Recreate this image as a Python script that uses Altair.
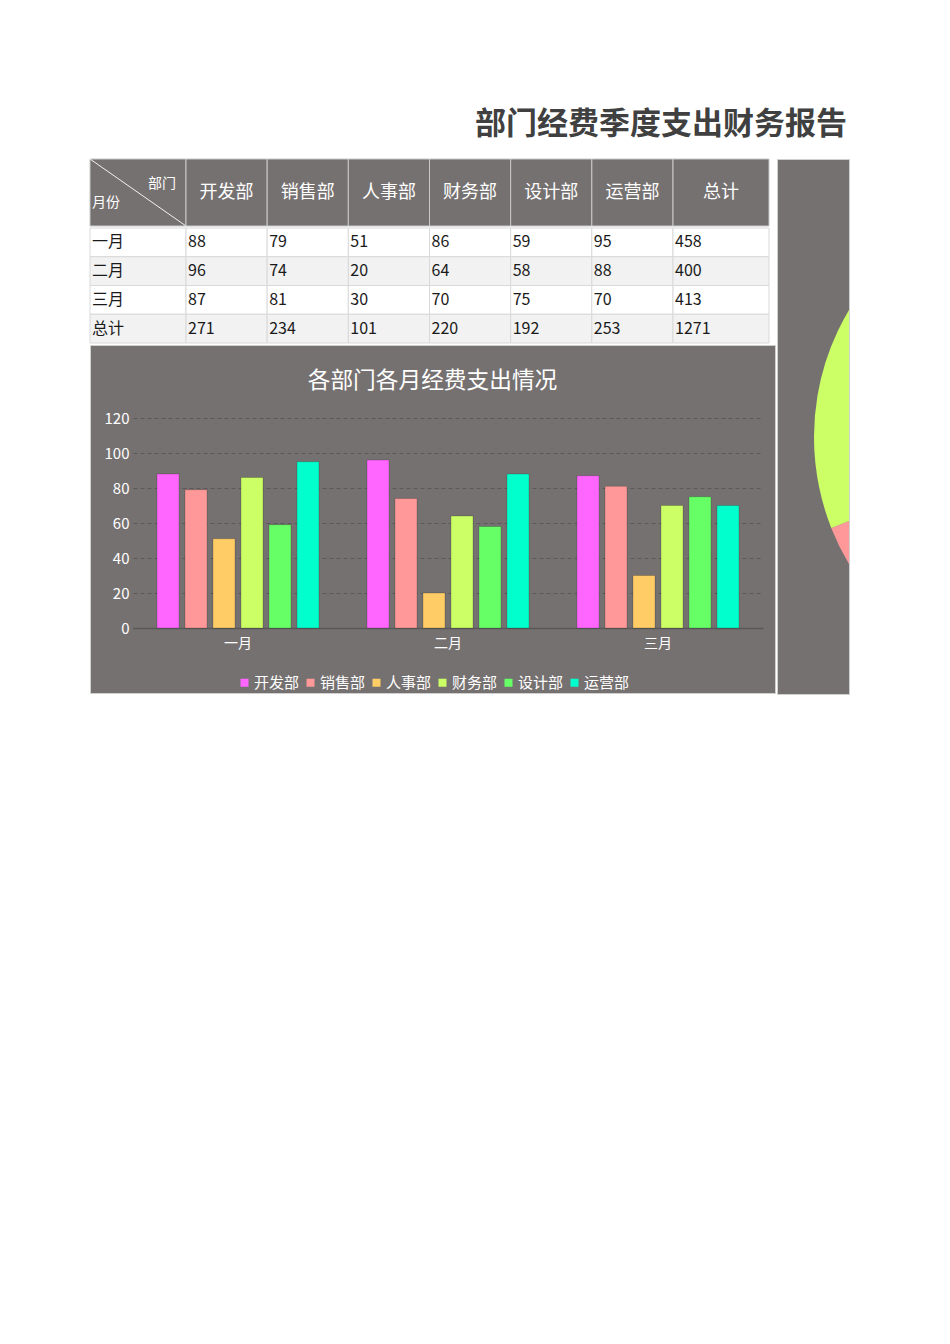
import math
import altair as alt
import pandas as pd

# 数据
report_title = "部门经费季度支出财务报告"
chart_title = "各部门各月经费支出情况"
depts = ["开发部", "销售部", "人事部", "财务部", "设计部", "运营部"]
months = ["一月", "二月", "三月"]
jan = [88, 79, 51, 86, 59, 95]
feb = [96, 74, 20, 64, 58, 88]
mar = [87, 81, 30, 70, 75, 70]
colors = ["#ff66ff", "#ff9999", "#ffcc66", "#ccff66", "#66ff66", "#00ffcc"]
pie_order = ["财务部", "设计部", "运营部", "开发部", "人事部", "销售部"]

FONT = "Noto Sans CJK SC"
GRAY = "#767171"
LINE = "#d0d0d0"
INK = "#1a1a1a"

rows = []
for m, vals in zip(months, [jan, feb, mar]):
    for d, v in zip(depts, vals):
        rows.append({"month": m, "dept": d, "value": v})
long = pd.DataFrame(rows)

dept_tot = long.groupby("dept")["value"].sum().reindex(depts)
month_tot = long.groupby("month")["value"].sum().reindex(months)
row_names = months + ["总计"]
shade = {r: ("#ffffff" if i % 2 == 0 else "#f2f2f2") for i, r in enumerate(row_names)}

cells = pd.concat([
    long,
    pd.DataFrame({"month": "总计", "dept": depts, "value": dept_tot.values}),
], ignore_index=True)
cells["fill"] = cells["month"].map(shade)

labels_df = pd.DataFrame({"month": row_names})
labels_df["fill"] = labels_df["month"].map(shade)

totals_df = pd.DataFrame({"month": row_names,
                          "value": list(month_tot.values) + [int(dept_tot.sum())]})
totals_df["fill"] = totals_df["month"].map(shade)

band0 = alt.Scale(paddingInner=0, paddingOuter=0)
y_rows = alt.Y("month:N", sort=row_names, axis=None, scale=band0)
HEAD_H = 67


# 表头
def header(names, width):
    base = alt.Chart(pd.DataFrame({"h": names}))
    x = alt.X("h:N", sort=names, axis=None, scale=band0)
    rect = base.mark_rect(fill=GRAY, stroke="#c8c8c8", strokeWidth=1).encode(x=x)
    txt = base.mark_text(font=FONT, fontSize=18, color="white").encode(x=x, text="h:N")
    return alt.layer(rect, txt).properties(width=width, height=HEAD_H)


diag_base = alt.Chart(pd.DataFrame({"a": ["部门"], "b": ["月份"]}))
diag = alt.layer(
    diag_base.mark_rect(fill=GRAY, stroke="#c8c8c8", strokeWidth=1),
    diag_base.mark_rule(color="#f2f2f2", strokeWidth=1).encode(
        x=alt.value(0), y=alt.value(0), x2=alt.value("width"), y2=alt.value("height")),
    diag_base.mark_text(font=FONT, fontSize=14, color="white", align="right").encode(
        text="a:N", x=alt.value(86), y=alt.value(25)),
    diag_base.mark_text(font=FONT, fontSize=14, color="white", align="left").encode(
        text="b:N", x=alt.value(2), y=alt.value(44)),
).properties(width=96, height=HEAD_H)

# 表体
lab_base = alt.Chart(labels_df)
row_labels = alt.layer(
    lab_base.mark_rect(stroke="#d9d9d9", strokeWidth=1).encode(
        y=y_rows, fill=alt.Fill("fill:N", scale=None)),
    lab_base.mark_text(font=FONT, fontSize=16, color=INK, align="left", dx=2).encode(
        y=y_rows, x=alt.value(0), text="month:N"),
).properties(width=96, height=115)

x_dept = alt.X("dept:N", sort=depts, axis=None, scale=band0)
x_dept_left = alt.X("dept:N", sort=depts, axis=None, scale=band0, bandPosition=0)
cell_base = alt.Chart(cells)
values = alt.layer(
    cell_base.mark_rect(stroke="#d9d9d9", strokeWidth=1).encode(
        x=x_dept, y=y_rows, fill=alt.Fill("fill:N", scale=None)),
    cell_base.mark_text(font=FONT, fontSize=16, color=INK, align="left", dx=2).encode(
        x=x_dept_left, y=y_rows, text=alt.Text("value:Q", format="d")),
).properties(width=487, height=115)

tot_base = alt.Chart(totals_df)
totals = alt.layer(
    tot_base.mark_rect(stroke="#d9d9d9", strokeWidth=1).encode(
        y=y_rows, fill=alt.Fill("fill:N", scale=None)),
    tot_base.mark_text(font=FONT, fontSize=16, color=INK, align="left", dx=2).encode(
        y=y_rows, x=alt.value(0), text=alt.Text("value:Q", format="d")),
).properties(width=96, height=115)

table = alt.vconcat(
    alt.hconcat(diag, header(depts, 487), header(["总计"], 96), spacing=0, bounds="flush"),
    alt.hconcat(row_labels, values, totals, spacing=0, bounds="flush"),
    spacing=0,
)

# 柱形图
bars = alt.Chart(long).mark_bar(stroke="#000000", strokeOpacity=0.18, strokeWidth=1).encode(
    x=alt.X("month:N", sort=months, title=None,
            scale=alt.Scale(range=[43, 673], paddingInner=0.2286, paddingOuter=0.1143),
            axis=alt.Axis(offset=-65, labelAngle=0, labelColor="white", labelFontSize=14,
                          labelFont=FONT, labelPadding=8, domainColor="#595959",
                          domainWidth=1.5, ticks=False, grid=False)),
    xOffset=alt.XOffset("dept:N", sort=depts,
                        scale=alt.Scale(paddingInner=0.214, paddingOuter=0)),
    y=alt.Y("value:Q", title=None,
            scale=alt.Scale(domain=[0, 120], range=[283, 73], nice=False),
            axis=alt.Axis(offset=-43, values=list(range(0, 121, 20)), labelColor="white",
                          labelFontSize=15, labelFont=FONT, labelPadding=4, domain=False,
                          ticks=False, gridColor="#595959", gridDash=[4, 3], gridWidth=1.2)),
    color=alt.Color("dept:N", sort=depts, scale=alt.Scale(domain=depts, range=colors),
                    legend=alt.Legend(orient="none", legendX=147, legendY=575,
                                      direction="horizontal", columns=6, title=None,
                                      symbolType="square", symbolSize=64,
                                      symbolStrokeWidth=0, labelColor="white",
                                      labelFontSize=15, labelFont=FONT,
                                      columnPadding=3, labelOffset=2)),
).properties(
    width=685, height=348,
    title=alt.TitleParams(chart_title, font=FONT, fontSize=22.7, fontWeight="normal",
                          color="white", anchor="middle", frame="group",
                          baseline="middle", offset=-59),
    view=alt.ViewBackground(fill=GRAY, stroke=LINE, strokeWidth=1),
)

# 饼图（右侧被裁切）
pie_df = pd.DataFrame({"dept": depts, "total": dept_tot.values, "col": colors})
pie_df["ord"] = pie_df["dept"].map({d: i for i, d in enumerate(pie_order)})
start = math.radians(248.5)
pie = alt.Chart(pie_df).mark_arc(radius=248, clip=True).encode(
    theta=alt.Theta("total:Q", stack=True, scale=alt.Scale(range=[start, start + 2 * math.pi])),
    color=alt.Color("col:N", scale=None),
    order=alt.Order("ord:Q"),
    x=alt.value(285), y=alt.value(278),
).properties(width=72, height=535,
             view=alt.ViewBackground(fill=GRAY, stroke=LINE, strokeWidth=1))

left = alt.vconcat(table, bars, spacing=0)
body = alt.hconcat(left, pie, spacing=0)

title_view = alt.Chart(pd.DataFrame({"t": [report_title]})).mark_text(
    font=FONT, fontSize=31, fontWeight="bold", color="#404040", align="right",
    baseline="middle",
).encode(text="t:N", x=alt.value(757), y=alt.value(25)).properties(
    width=759, height=50, view=alt.ViewBackground(stroke="transparent", strokeWidth=0))

chart = alt.vconcat(title_view, body, spacing=8).properties(
    padding={"left": 81, "top": 92, "right": 5, "bottom": 5},
    background="white",
).configure_view(strokeWidth=0)

chart.save("out.html", embed_options={"renderer": "svg", "actions": False})
